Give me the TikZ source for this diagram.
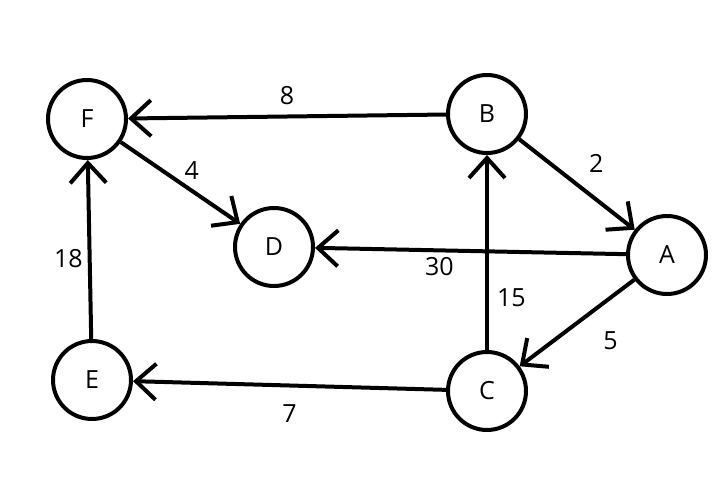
\documentclass[tikz,border=0pt]{standalone}
\usepackage{fontspec}
\setmainfont{Open Sans}
\usetikzlibrary{arrows.meta}

\tikzset{
  vertex/.style={draw, circle, line width=4pt, minimum size=78pt, inner sep=0pt},
  edge/.style={line width=4pt, -{Straight Barb[length=20pt,width=36pt,line width=4pt]}},
  weight/.style={inner sep=2pt}
}

\begin{document}
\begin{tikzpicture}[x=1pt, y=-1pt, font=\fontsize{25}{30}\selectfont]
\useasboundingbox (0,0) rectangle (724,488);
% vertices
\node[vertex] (F) at (87,119) {F};
\node[vertex] (B) at (487,114) {B};
\node[vertex] (D) at (274,247) {D};
\node[vertex] (A) at (667,255) {A};
\node[vertex] (E) at (92,380) {E};
\node[vertex] (C) at (487,391) {C};
% edges
\draw[edge] (B) -- (F) node[weight, midway, above=8pt] {8};
\draw[edge] (F) -- (D) node[weight, midway, above right=0pt] {4};
\draw[edge] (B) -- (A) node[weight, midway, above right=8pt] {2};
\draw[edge] (A) -- (D) node[weight, pos=0.6, below=3pt] {30};
\draw[edge] (A) -- (C) node[weight, pos=0.41, below right=12pt] {5};
\draw[edge] (C) -- (B) node[weight, pos=0.27, right=6pt] {15};
\draw[edge] (C) -- (E) node[weight, midway, below=15pt] {7};
\draw[edge] (E) -- (F) node[weight, pos=0.45, left=3pt] {18};
\end{tikzpicture}
\end{document}
